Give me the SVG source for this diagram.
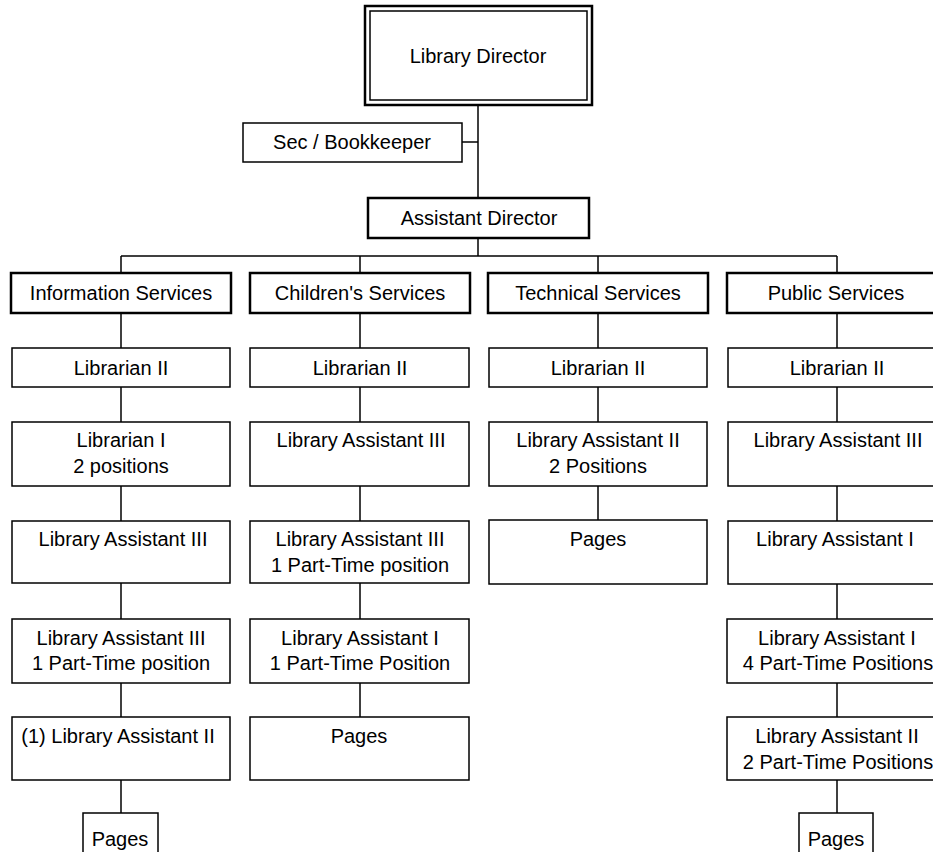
<svg xmlns="http://www.w3.org/2000/svg" width="933" height="852" viewBox="0 0 933 852">
<style>
  .box { fill: #fff; stroke: #000; stroke-width: 1.5; }
  .thick { fill: #fff; stroke: #000; stroke-width: 2.5; }
  .inner { fill: none; stroke: #000; stroke-width: 1.5; }
  .t { font-family: "Liberation Sans", Arial, sans-serif; font-size: 20px; fill: #000; text-anchor: middle; }
  .conn line { stroke: #000; stroke-width: 1.5; }
</style>
<rect width="933" height="852" fill="#fff"/>
<g class="conn" id="connectors">
  <line x1="478" y1="105" x2="478" y2="198"/>
  <line x1="462" y1="142" x2="478" y2="142"/>
  <line x1="478" y1="238" x2="478" y2="256"/>
  <line x1="121" y1="256" x2="837" y2="256"/>
  <line x1="121" y1="256" x2="121" y2="273"/>
  <line x1="360" y1="256" x2="360" y2="273"/>
  <line x1="598" y1="256" x2="598" y2="273"/>
  <line x1="837" y1="256" x2="837" y2="273"/>
  <line x1="121" y1="313" x2="121" y2="348"/>
  <line x1="121" y1="387" x2="121" y2="422"/>
  <line x1="121" y1="486" x2="121" y2="521"/>
  <line x1="121" y1="583" x2="121" y2="619"/>
  <line x1="121" y1="683" x2="121" y2="717"/>
  <line x1="121" y1="780" x2="121" y2="813"/>
  <line x1="360" y1="313" x2="360" y2="348"/>
  <line x1="360" y1="387" x2="360" y2="422"/>
  <line x1="360" y1="486" x2="360" y2="521"/>
  <line x1="360" y1="583" x2="360" y2="619"/>
  <line x1="360" y1="683" x2="360" y2="717"/>
  <line x1="598" y1="313" x2="598" y2="348"/>
  <line x1="598" y1="387" x2="598" y2="422"/>
  <line x1="598" y1="486" x2="598" y2="520"/>
  <line x1="837" y1="313" x2="837" y2="348"/>
  <line x1="837" y1="387" x2="837" y2="422"/>
  <line x1="837" y1="486" x2="837" y2="521"/>
  <line x1="837" y1="583" x2="837" y2="619"/>
  <line x1="837" y1="683" x2="837" y2="717"/>
  <line x1="837" y1="780" x2="837" y2="813"/>
</g>
<g id="director">
  <rect class="thick" x="365" y="6" width="227" height="99"/>
  <rect class="inner" x="370" y="11" width="217" height="89"/>
  <text class="t" x="478" y="63">Library Director</text>
</g>
<g id="sec">
  <rect class="box" x="243" y="123" width="219" height="39"/>
  <text class="t" x="352" y="149">Sec / Bookkeeper</text>
</g>
<g id="asstdir">
  <rect class="thick" x="368" y="198" width="221" height="40"/>
  <text class="t" x="479" y="225">Assistant Director</text>
</g>
<!-- Column 1 -->
<g id="info">
  <rect class="thick" x="11" y="273" width="220" height="40"/>
  <text class="t" x="121" y="300">Information Services</text>
</g>
<g id="c1r2">
  <rect class="box" x="12" y="348" width="218" height="39"/>
  <text class="t" x="121" y="375">Librarian II</text>
</g>
<g id="c1r3">
  <rect class="box" x="12" y="422" width="218" height="64"/>
  <text class="t" x="121" y="447">Librarian I</text>
  <text class="t" x="121" y="473">2 positions</text>
</g>
<g id="c1r4">
  <rect class="box" x="12" y="521" width="218" height="62"/>
  <text class="t" x="123" y="546">Library Assistant III</text>
</g>
<g id="c1r5">
  <rect class="box" x="12" y="619" width="218" height="64"/>
  <text class="t" x="121" y="645">Library Assistant III</text>
  <text class="t" x="121" y="670">1 Part-Time position</text>
</g>
<g id="c1r6">
  <rect class="box" x="12" y="717" width="218" height="63"/>
  <text class="t" x="118" y="743">(1) Library Assistant II</text>
</g>
<g id="c1pages">
  <rect class="box" x="83" y="813" width="75" height="50"/>
  <text class="t" x="120" y="846">Pages</text>
</g>
<!-- Column 2 -->
<g id="children">
  <rect class="thick" x="250" y="273" width="220" height="40"/>
  <text class="t" x="360" y="300">Children's Services</text>
</g>
<g id="c2r2">
  <rect class="box" x="250" y="348" width="219" height="39"/>
  <text class="t" x="360" y="375">Librarian II</text>
</g>
<g id="c2r3">
  <rect class="box" x="250" y="422" width="219" height="64"/>
  <text class="t" x="361" y="447">Library Assistant III</text>
</g>
<g id="c2r4">
  <rect class="box" x="250" y="521" width="219" height="62"/>
  <text class="t" x="360" y="546">Library Assistant III</text>
  <text class="t" x="360" y="572">1 Part-Time position</text>
</g>
<g id="c2r5">
  <rect class="box" x="250" y="619" width="219" height="64"/>
  <text class="t" x="360" y="645">Library Assistant I</text>
  <text class="t" x="360" y="670">1 Part-Time Position</text>
</g>
<g id="c2r6">
  <rect class="box" x="250" y="717" width="219" height="63"/>
  <text class="t" x="359" y="743">Pages</text>
</g>
<!-- Column 3 -->
<g id="technical">
  <rect class="thick" x="488" y="273" width="220" height="40"/>
  <text class="t" x="598" y="300">Technical Services</text>
</g>
<g id="c3r2">
  <rect class="box" x="489" y="348" width="218" height="39"/>
  <text class="t" x="598" y="375">Librarian II</text>
</g>
<g id="c3r3">
  <rect class="box" x="489" y="422" width="218" height="64"/>
  <text class="t" x="598" y="447">Library Assistant II</text>
  <text class="t" x="598" y="473">2 Positions</text>
</g>
<g id="c3r4">
  <rect class="box" x="489" y="520" width="218" height="64"/>
  <text class="t" x="598" y="546">Pages</text>
</g>
<!-- Column 4 -->
<g id="public">
  <rect class="thick" x="727" y="273" width="220" height="40"/>
  <text class="t" x="836" y="300">Public Services</text>
</g>
<g id="c4r2">
  <rect class="box" x="728" y="348" width="219" height="39"/>
  <text class="t" x="837" y="375">Librarian II</text>
</g>
<g id="c4r3">
  <rect class="box" x="728" y="422" width="219" height="64"/>
  <text class="t" x="838" y="447">Library Assistant III</text>
</g>
<g id="c4r4">
  <rect class="box" x="728" y="521" width="219" height="63"/>
  <text class="t" x="835" y="546">Library Assistant I</text>
</g>
<g id="c4r5">
  <rect class="box" x="727" y="619" width="220" height="64"/>
  <text class="t" x="837" y="645">Library Assistant I</text>
  <text class="t" x="838" y="670">4 Part-Time Positions</text>
</g>
<g id="c4r6">
  <rect class="box" x="727" y="717" width="220" height="63"/>
  <text class="t" x="837" y="743">Library Assistant II</text>
  <text class="t" x="838" y="769">2 Part-Time Positions</text>
</g>
<g id="c4pages">
  <rect class="box" x="799" y="813" width="74" height="50"/>
  <text class="t" x="836" y="846">Pages</text>
</g>
</svg>
